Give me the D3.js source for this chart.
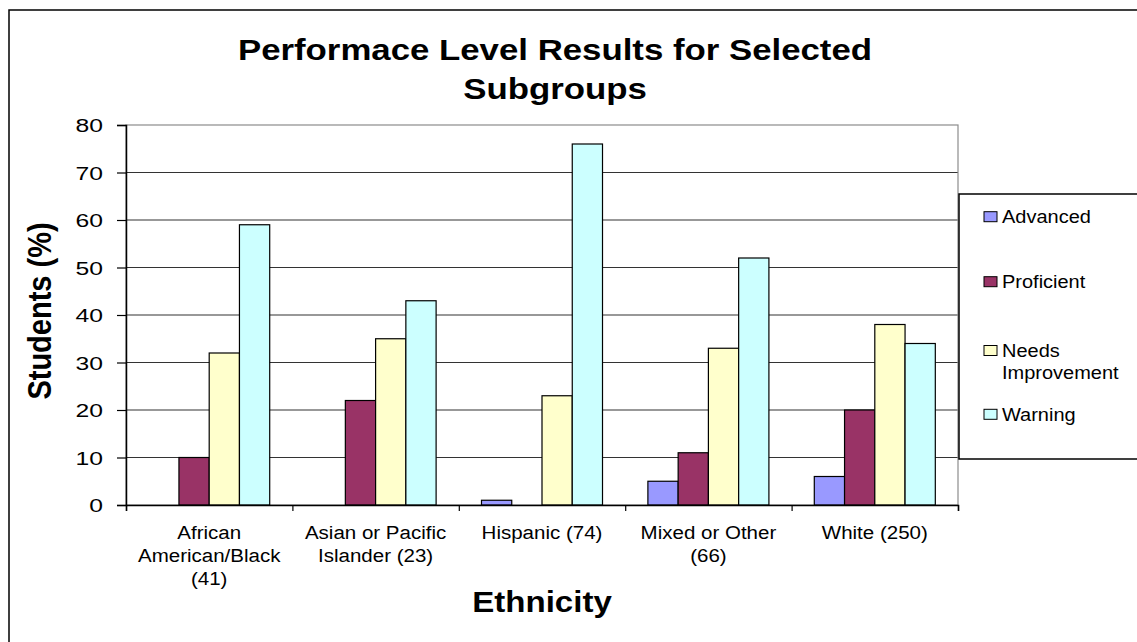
<!DOCTYPE html>
<html>
<head>
<meta charset="utf-8">
<script src="https://cdn.jsdelivr.net/npm/d3@7"></script>
<style>
  html, body { margin: 0; padding: 0; background: #fff; }
  svg { display: block; }
  text { font-family: "Liberation Sans", Arial, sans-serif; fill: #000; }
</style>
</head>
<body>
<svg id="chart" width="1137" height="642"></svg>
<script>
// ---- data ----
const categories = [
  ["African", "American/Black", "(41)"],
  ["Asian or Pacific", "Islander (23)"],
  ["Hispanic (74)"],
  ["Mixed or Other", "(66)"],
  ["White (250)"]
];
const seriesNames = ["Advanced", "Proficient", "Needs Improvement", "Warning"];
const advanced    = [0, 0, 1, 5, 6];
const proficient  = [10, 22, 0, 11, 20];
const needsImprov = [32, 35, 23, 33, 38];
const warning     = [59, 43, 76, 52, 34];
const yTicks = [0, 10, 20, 30, 40, 50, 60, 70, 80];
const seriesColors = ["#9999FF", "#993366", "#FFFFCC", "#CCFFFF"];

const seriesValues = [advanced, proficient, needsImprov, warning];

// ---- layout ----
const svg = d3.select("#chart");
const plot = { left: 126, right: 958, top: 125, bottom: 505 };
const catKeys = categories.map((c, i) => i);

const x0 = d3.scaleBand().domain(catKeys).range([plot.left, plot.right]).padding(0);
const bw = x0.bandwidth();
const gap = bw * 0.75 / 5.5; // 150% gap width split on both sides
const x1 = d3.scaleBand().domain(d3.range(seriesNames.length)).range([gap, bw - gap]).padding(0);
const y = d3.scaleLinear().domain([0, 80]).range([plot.bottom, plot.top]);

// helper: text stretched horizontally
function sText(g, x, yy, str, opts) {
  const sx = opts.sx || 1;
  return g.append("text")
    .attr("transform", `translate(${x},${yy}) scale(${sx},1)`)
    .attr("text-anchor", opts.anchor || "start")
    .style("font-size", opts.size + "px")
    .style("font-weight", opts.bold ? "bold" : "normal")
    .text(str);
}

// outer chart border
svg.append("rect")
  .attr("x", 9).attr("y", 10).attr("width", 1200).attr("height", 700)
  .attr("fill", "#fff").attr("stroke", "#000").attr("stroke-width", 1.5);

// gridlines
svg.append("g")
  .selectAll("line")
  .data(yTicks.filter(t => t > 0 && t < 80))
  .join("line")
  .attr("x1", plot.left).attr("x2", plot.right)
  .attr("y1", d => y(d)).attr("y2", d => y(d))
  .attr("stroke", "#333").attr("stroke-width", 1.2);

// plot area border
svg.append("rect")
  .attr("x", plot.left).attr("y", plot.top)
  .attr("width", plot.right - plot.left).attr("height", plot.bottom - plot.top)
  .attr("fill", "none").attr("stroke", "#8c8c8c").attr("stroke-width", 1.2);

// bars
const groups = svg.append("g").selectAll("g")
  .data(catKeys)
  .join("g")
  .attr("transform", d => `translate(${x0(d)},0)`);

groups.selectAll("rect")
  .data(ci => seriesValues.map((vals, si) => ({ si, v: vals[ci] })))
  .join("rect")
  .filter(d => d.v > 0)
  .attr("x", d => x1(d.si))
  .attr("y", d => y(d.v))
  .attr("width", x1.bandwidth())
  .attr("height", d => y(0) - y(d.v))
  .attr("fill", d => seriesColors[d.si])
  .attr("stroke", "#000")
  .attr("stroke-width", 1.2);

// y axis
const yAxis = svg.append("g")
  .attr("transform", `translate(${plot.left},0)`)
  .call(d3.axisLeft(y).tickValues(yTicks).tickSize(9).tickPadding(0));
yAxis.select(".domain").attr("stroke", "#000").attr("stroke-width", 1.5);
yAxis.selectAll(".tick line").attr("stroke", "#000").attr("stroke-width", 1.2);
const tickSx = 1.3;
yAxis.selectAll(".tick text")
  .attr("x", -23 / tickSx)
  .attr("dy", "0.35em")
  .attr("transform", `scale(${tickSx},1)`)
  .style("font-size", "19px")
  .style("font-family", "'Liberation Sans', Arial, sans-serif")
  .attr("fill", "#000");

// x axis
const xb = d3.scaleLinear().domain([0, categories.length]).range([plot.left, plot.right]);
const xAxis = svg.append("g")
  .attr("transform", `translate(0,${plot.bottom})`)
  .call(d3.axisBottom(xb).tickValues(d3.range(categories.length + 1)).tickSize(6).tickFormat(""));
xAxis.select(".domain").attr("stroke", "#000").attr("stroke-width", 1.5);
xAxis.selectAll(".tick line").attr("stroke", "#000").attr("stroke-width", 1.2);

// category labels
const catG = svg.append("g");
categories.forEach((lines, i) => {
  const cx = x0(i) + bw / 2;
  lines.forEach((ln, j) => {
    sText(catG, cx, 538.5 + j * 23.3, ln, { size: 19, sx: 1.08, anchor: "middle" });
  });
});

// titles
const tG = svg.append("g");
sText(tG, 555, 60, "Performace Level Results for Selected", { size: 29, sx: 1.2, anchor: "middle", bold: true });
sText(tG, 555, 99, "Subgroups", { size: 29, sx: 1.2, anchor: "middle", bold: true });
sText(tG, (plot.left + plot.right) / 2, 612, "Ethnicity", { size: 29, sx: 1.14, anchor: "middle", bold: true });

tG.append("text")
  .attr("transform", "translate(51,311) rotate(-90) scale(1,1.15)")
  .attr("text-anchor", "middle")
  .style("font-size", "29px")
  .style("font-weight", "bold")
  .text("Students (%)");

// legend
const lg = svg.append("g");
lg.append("rect")
  .attr("x", 959).attr("y", 194).attr("width", 300).attr("height", 265)
  .attr("fill", "#fff").attr("stroke", "#000").attr("stroke-width", 1.5);
const legendRows = [
  { y: 216.7, lines: ["Advanced"] },
  { y: 281.7, lines: ["Proficient"] },
  { y: 350.5, lines: ["Needs", "Improvement"] },
  { y: 414.3, lines: ["Warning"] }
];
legendRows.forEach((r, i) => {
  lg.append("rect")
    .attr("x", 984).attr("y", r.y - 5)
    .attr("width", 13).attr("height", 10)
    .attr("fill", seriesColors[i]).attr("stroke", "#000").attr("stroke-width", 1);
  r.lines.forEach((ln, j) => {
    sText(lg, 1002, r.y + 6.7 + j * 22, ln, { size: 18.5, sx: 1.08 });
  });
});
</script>
</body>
</html>
